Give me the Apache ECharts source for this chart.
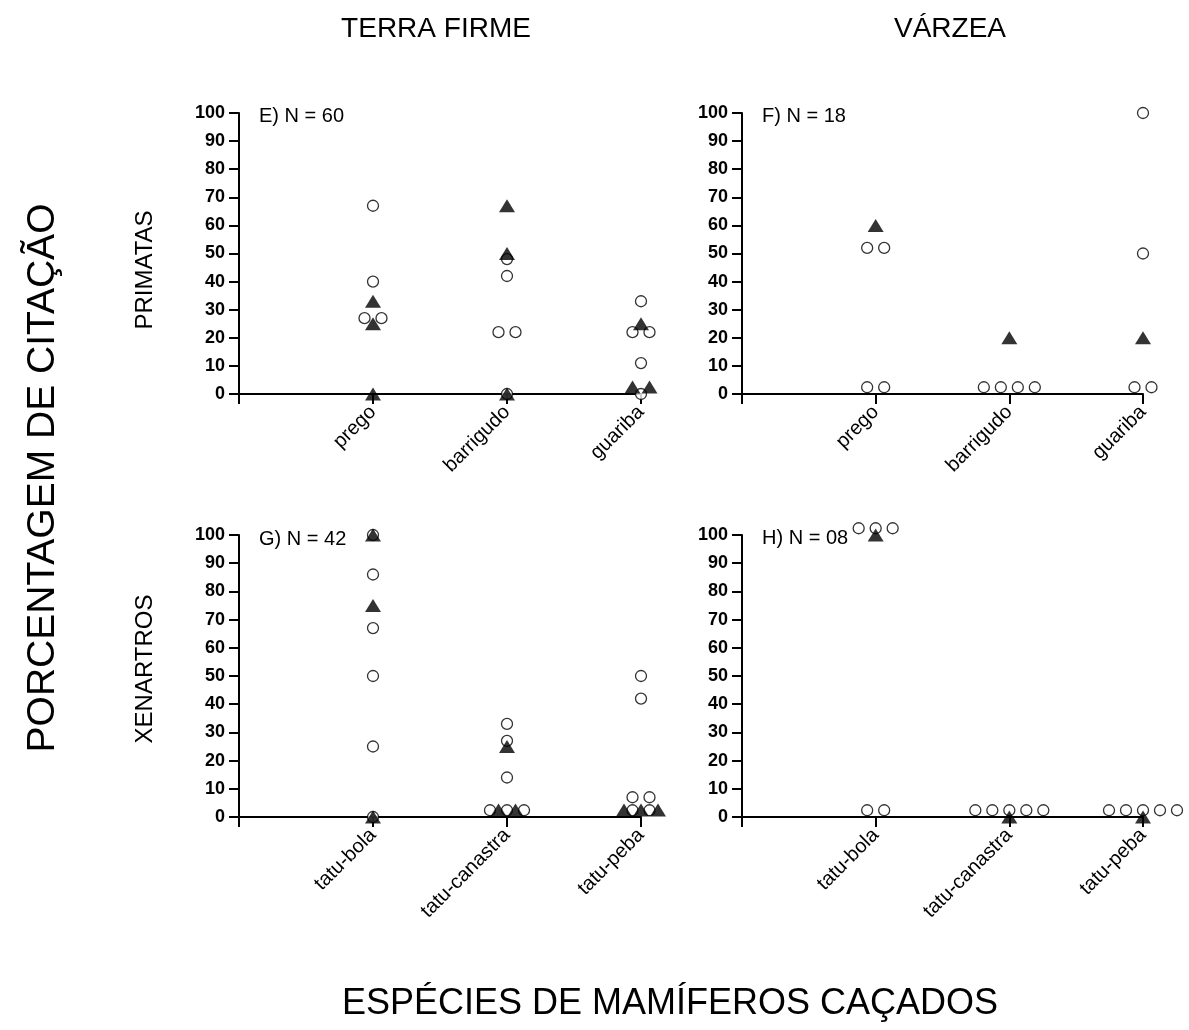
<!DOCTYPE html>
<html>
<head>
<meta charset="utf-8">
<script src="https://cdn.jsdelivr.net/npm/echarts@6/dist/echarts.min.js"></script>
<style>
  html, body { margin: 0; padding: 0; background: #fff; }
  #chart { width: 1189px; height: 1030px; }
</style>
</head>
<body>
<div id="chart"></div>
<script>
// Hunted species per group
const primateSpecies = ['prego', 'barrigudo', 'guariba'];
const xenarthranSpecies = ['tatu-bola', 'tatu-canastra', 'tatu-peba'];

// Y-axis ticks (percentage of citation)
const yTicks = [0, 10, 20, 30, 40, 50, 60, 70, 80, 90, 100];

// E) Terra firme, primates (N = 60)
const eOpen     = [[67, 40, 27, 27], [48, 42, 22, 22, 0], [33, 22, 22, 11, 0]];
const eFilled   = [[33, 25, 0], [67, 50, 0], [25, 2.5, 2.5]];
// F) Várzea, primates (N = 18)
const fOpen     = [[52, 52, 2.4, 2.4], [2.4, 2.4, 2.4, 2.4], [100, 50, 2.4, 2.4]];
const fFilled   = [[60], [20], [20]];
// G) Terra firme, xenarthrans (N = 42)
const gOpen     = [[100, 86, 67, 50, 25, 0], [33, 27, 14, 2.4, 2.4, 2.4], [50, 42, 7, 7, 2.4, 2.4]];
const gFilled   = [[100, 75, 0], [25, 2.5, 2.5], [2.5, 2.5, 2.5]];
// H) Várzea, xenarthrans (N = 08)
const hOpen     = [[102.4, 102.4, 102.4, 2.4, 2.4], [2.4, 2.4, 2.4, 2.4, 2.4], [2.4, 2.4, 2.4, 2.4, 2.4]];
const hFilled   = [[100], [0], [0]];

const panelLabels = ['E) N = 60', 'F) N = 18', 'G) N = 42', 'H) N = 08'];
const columnTitles = ['TERRA FIRME', 'VÁRZEA'];
const rowTitles = ['PRIMATAS', 'XENARTROS'];
const yTitle = 'PORCENTAGEM DE CITAÇÃO';
const xTitle = 'ESPÉCIES DE MAMÍFEROS CAÇADOS';

const FONT = '"Liberation Sans", Arial, Helvetica, sans-serif';

const panels = [
  { open: eOpen, filled: eFilled, cats: primateSpecies,    grid: { left: 239, top: 113, width: 402, height: 281 } },
  { open: fOpen, filled: fFilled, cats: primateSpecies,    grid: { left: 742, top: 113, width: 401, height: 281 } },
  { open: gOpen, filled: gFilled, cats: xenarthranSpecies, grid: { left: 239, top: 535, width: 402, height: 282 } },
  { open: hOpen, filled: hFilled, cats: xenarthranSpecies, grid: { left: 742, top: 535, width: 401, height: 282 } }
];

// Horizontal dodge (px) for repeated values within one column of one series
const DODGE = 17;
function dodgeOffsets(values) {
  const counts = {};
  values.forEach(v => { counts[v] = (counts[v] || 0) + 1; });
  const seen = {};
  return values.map(v => {
    seen[v] = seen[v] === undefined ? 0 : seen[v] + 1;
    return (seen[v] - (counts[v] - 1) / 2) * DODGE;
  });
}

function buildPoints(columns) {
  const pts = [];
  columns.forEach((vals, ci) => {
    const offs = dodgeOffsets(vals);
    vals.forEach((v, k) => {
      pts.push({ value: [ci + 1, v], symbolOffset: [offs[k], 0] });
    });
  });
  return pts;
}

const grids = [], xAxes = [], yAxes = [], series = [];
panels.forEach((p, i) => {
  grids.push(Object.assign({ containLabel: false }, p.grid));
  const cats = p.cats;
  xAxes.push({
    type: 'value', gridIndex: i, min: 0, max: 3, interval: 1,
    splitLine: { show: false },
    axisLine: { lineStyle: { color: '#000', width: 2 } },
    axisTick: { length: 10, lineStyle: { color: '#000', width: 2 } },
    axisLabel: {
      rotate: 45, margin: 15, color: '#000', fontFamily: FONT, fontSize: 20,
      showMinLabel: true, showMaxLabel: true,
      formatter: v => (v >= 1 && v <= 3) ? cats[v - 1] : ''
    }
  });
  yAxes.push({
    type: 'value', gridIndex: i, min: yTicks[0], max: yTicks[yTicks.length - 1], interval: 10,
    splitLine: { show: false },
    axisLine: { show: true, lineStyle: { color: '#000', width: 2 } },
    axisTick: { show: true, length: 10, lineStyle: { color: '#000', width: 2 } },
    axisLabel: { margin: 14, color: '#000', fontFamily: FONT, fontSize: 18, fontWeight: 'bold' }
  });
  series.push({
    name: 'aberto', type: 'scatter', xAxisIndex: i, yAxisIndex: i,
    symbol: 'circle', symbolSize: 11, clip: false, silent: true, z: 2,
    itemStyle: { color: '#fff', borderColor: '#000', borderWidth: 1.3 },
    data: buildPoints(p.open)
  });
  series.push({
    name: 'cheio', type: 'scatter', xAxisIndex: i, yAxisIndex: i,
    symbol: 'triangle', symbolSize: [16, 13], clip: false, silent: true, z: 3,
    itemStyle: { color: '#000' },
    data: buildPoints(p.filled)
  });
});

function txt(text, x, y, size, opts) {
  return Object.assign({
    type: 'text', x: x, y: y, silent: true,
    style: { text: text, fill: '#000', font: size + 'px ' + FONT, align: 'center', verticalAlign: 'middle' }
  }, opts || {});
}

const graphics = [
  txt(columnTitles[0], 436, 29, 28),
  txt(columnTitles[1], 950, 29, 28),
  txt(rowTitles[0], 145, 270, 24, { rotation: Math.PI / 2 }),
  txt(rowTitles[1], 145, 669, 24, { rotation: Math.PI / 2 }),
  txt(yTitle, 43, 478, 39, { rotation: Math.PI / 2 }),
  txt(xTitle, 670, 1004, 36)
];
const labelPos = [[259, 116], [762, 116], [259, 539], [762, 538]];
panelLabels.forEach((t, i) => {
  const g = txt(t, labelPos[i][0], labelPos[i][1], 20);
  g.style.align = 'left';
  graphics.push(g);
});

const chart = echarts.init(document.getElementById('chart'), null, { renderer: 'canvas' });
chart.setOption({
  backgroundColor: '#fff',
  animation: false,
  grid: grids,
  xAxis: xAxes,
  yAxis: yAxes,
  series: series,
  graphic: graphics
});
</script>
</body>
</html>
